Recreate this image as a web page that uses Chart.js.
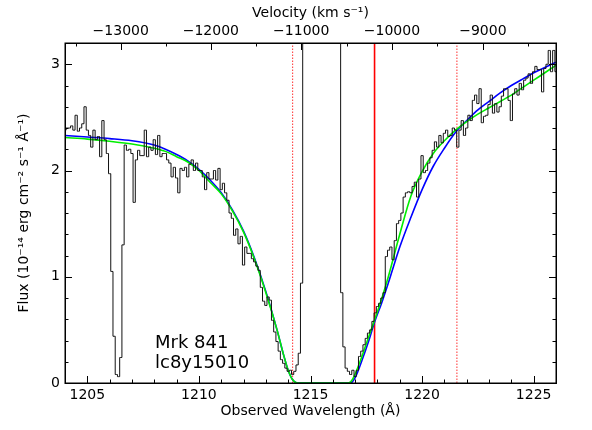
<!DOCTYPE html>
<html><head><meta charset="utf-8">
<script src="https://cdn.jsdelivr.net/npm/chart.js@4.4.1/dist/chart.umd.min.js"></script>
<style>html,body{margin:0;padding:0;background:#fff}canvas{display:block}</style>
</head><body>
<canvas id="c" width="592" height="430"></canvas>
<script>
// ---- data ----
const specStart = 1204.0;   // first bin centre (Å)
const specStep = 0.1;       // bin width (Å)
const specFlux = [
 2.38,2.40,2.40,2.42,2.38,2.52,2.37,2.40,2.44,2.60,
 2.38,2.33,2.22,2.38,2.29,2.32,2.13,2.47,2.29,2.16,
 1.97,1.05,0.44,0.08,0.06,0.24,1.30,2.24,2.19,2.20,
 2.16,1.70,2.10,2.19,2.14,2.14,2.38,2.13,2.22,2.19,
 2.29,2.15,2.33,2.13,2.16,2.16,2.10,2.07,1.94,2.03,
 1.93,1.79,2.02,2.00,2.03,1.94,2.06,2.10,2.00,2.07,
 2.00,2.00,1.94,1.82,1.98,1.92,1.92,2.00,1.91,2.02,
 1.82,1.88,1.79,1.72,1.60,1.55,1.39,1.45,1.31,1.38,
 1.11,1.28,1.22,1.22,1.17,1.14,1.10,1.06,0.90,0.77,
 0.73,0.81,0.78,0.59,0.48,0.39,0.30,0.22,0.185,0.14,
 0.11,0.12,0.08,0.11,0.17,0.28,0.94,9,9,9,
 9,9,9,9,9,9,9,9,9,9,
 9,9,9,9,0.85,0.34,0.14,0.11,0.08,0.12,
 0.06,0.12,0.25,0.30,0.36,0.42,0.47,0.50,0.58,0.66,
 0.72,0.75,0.80,0.85,1.19,1.25,1.28,1.16,1.34,1.50,
 1.53,1.60,1.75,1.79,1.80,1.79,1.85,1.89,1.75,1.92,
 2.14,1.98,2.00,2.07,2.12,2.19,2.27,2.22,2.33,2.26,
 2.35,2.38,2.32,2.33,2.40,2.38,2.22,2.38,2.47,2.33,
 2.40,2.52,2.47,2.66,2.71,2.63,2.77,2.45,2.51,2.52,
 2.62,2.71,2.54,2.63,2.55,2.60,2.70,2.77,2.77,2.66,
 2.47,2.72,2.77,2.71,2.82,2.76,2.85,2.87,2.91,2.82,
 2.93,2.98,2.95,2.95,2.74,2.96,3.00,3.13,2.93,3.13,
 2.93
];
const greenWave = [1204.0,1205.0,1206.0,1207.0,1208.0,1208.5,1209.0,1209.5,1210.0,1210.5,1211.0,1211.5,1212.0,1212.5,1213.0,1213.5,1213.8,1214.0,1214.2,1214.4,1215.5,1216.7,1216.9,1217.2,1217.5,1217.85,1218.2,1218.5,1219.0,1219.5,1220.0,1220.5,1221.0,1221.5,1222.0,1222.5,1223.0,1223.5,1224.0,1224.5,1225.0,1225.5,1226.0];
const greenFlux = [2.31,2.295,2.275,2.25,2.21,2.18,2.13,2.08,2.00,1.89,1.78,1.62,1.42,1.16,0.85,0.50,0.26,0.12,0.03,0.0,0.0,0.0,0.04,0.19,0.37,0.58,0.80,1.01,1.40,1.76,1.99,2.16,2.28,2.38,2.46,2.53,2.59,2.65,2.71,2.78,2.85,2.92,2.99];
const blueWave = [1204.0,1205.0,1206.0,1207.0,1208.0,1208.5,1209.0,1209.5,1210.0,1210.5,1211.0,1211.5,1212.0,1212.5,1213.0,1213.5,1213.8,1214.0,1214.2,1214.4,1215.6,1216.8,1217.0,1217.3,1217.6,1217.85,1218.2,1218.5,1219.0,1219.5,1220.0,1220.5,1221.0,1221.5,1222.0,1222.5,1223.0,1223.5,1224.0,1224.5,1225.0,1225.5,1226.0];
const blueFlux = [2.33,2.315,2.30,2.28,2.24,2.20,2.15,2.09,2.01,1.91,1.79,1.63,1.43,1.17,0.86,0.50,0.26,0.12,0.03,0.0,0.0,0.0,0.05,0.21,0.39,0.56,0.76,0.95,1.28,1.56,1.82,2.04,2.21,2.36,2.47,2.57,2.65,2.73,2.80,2.86,2.92,2.97,3.02];
const redSolidWave = 1217.87;
const redDottedWaves = [1214.20, 1221.56];
const xMajorTicks = [1205, 1210, 1215, 1220, 1225];
const yMajorTicks = [0, 1, 2, 3];
const velMajorTicks = [-13000, -12000, -11000, -10000, -9000];
const velMinorTicks = [-13500, -12500, -11500, -10500, -9500, -8500];
const lambdaRef = 1260.0;
const xRange = [1204, 1226];
const yRange = [0, 3.2];

// ---- helpers ----
const C_KMS = 299792.458;
function velToWave(v){ const b = v / C_KMS; return lambdaRef * Math.sqrt((1 + b) / (1 - b)); }
const specData = specFlux.map((f, i) => ({x: +(specStart + i * specStep).toFixed(2), y: f}));
const greenData = greenWave.map((w, i) => ({x: w, y: greenFlux[i]}));
const blueData = blueWave.map((w, i) => ({x: w, y: blueFlux[i]}));
const vline = w => [{x: w, y: yRange[0]}, {x: w, y: yRange[1]}];

Chart.defaults.font.family = '"DejaVu Sans", sans-serif';
Chart.defaults.font.size = 14;
Chart.defaults.color = '#000';

const frameTicks = {
  id: 'frameTicks',
  afterDatasetsDraw(chart) {
    const {ctx, chartArea: a, scales} = chart;
    const xs = scales.x, ys = scales.y;
    const MAJ = 7, MIN = 3.5;
    ctx.save();
    ctx.strokeStyle = '#000';
    ctx.lineWidth = 1;
    ctx.beginPath();
    const bottomTick = (v, len) => {
      const X = Math.round(xs.getPixelForValue(v)) + 0.5;
      ctx.moveTo(X, a.bottom); ctx.lineTo(X, a.bottom - len);
    };
    const topTick = (w, len) => {
      const X = Math.round(xs.getPixelForValue(w)) + 0.5;
      ctx.moveTo(X, a.top); ctx.lineTo(X, a.top + len);
    };
    const sideTick = (v, len) => {
      const Y = Math.round(ys.getPixelForValue(v)) + 0.5;
      ctx.moveTo(a.left, Y); ctx.lineTo(a.left + len, Y);
      ctx.moveTo(a.right, Y); ctx.lineTo(a.right - len, Y);
    };
    for (let w = Math.ceil(xRange[0]); w <= xRange[1]; w++) {
      bottomTick(w, xMajorTicks.includes(w) ? MAJ : MIN);
    }
    velMajorTicks.forEach(v => topTick(velToWave(v), MAJ));
    velMinorTicks.forEach(v => topTick(velToWave(v), MIN));
    for (let k = 0; k <= 16; k++) {
      sideTick(k * 0.2, (k % 5 === 0) ? MAJ : MIN);
    }
    ctx.stroke();
    ctx.lineWidth = 1.5;
    ctx.strokeRect(a.left + 0.25, a.top + 0.25, a.right - a.left, a.bottom - a.top);
    // annotations
    ctx.fillStyle = '#000';
    ctx.font = '18px "DejaVu Sans"';
    ctx.textAlign = 'left';
    ctx.textBaseline = 'alphabetic';
    ctx.fillText('Mrk 841', a.left + 90, 348);
    ctx.fillText('lc8y15010', a.left + 90, 368);
    ctx.restore();
  }
};

new Chart(document.getElementById('c'), {
  type: 'scatter',
  data: {
    datasets: [
      {data: specData, showLine: true, stepped: 'middle', borderColor: '#111', borderWidth: 1, pointRadius: 0},
      {data: greenData, showLine: true, cubicInterpolationMode: 'monotone', borderColor: '#00ee00', borderWidth: 1.6, pointRadius: 0},
      {data: blueData, showLine: true, cubicInterpolationMode: 'monotone', borderColor: '#0000ff', borderWidth: 1.6, pointRadius: 0},
      {data: vline(redSolidWave), showLine: true, borderColor: '#ff0000', borderWidth: 1.6, pointRadius: 0},
      {data: vline(redDottedWaves[0]), showLine: true, borderColor: '#ff3030', borderWidth: 1, borderDash: [1.5, 1.5], pointRadius: 0},
      {data: vline(redDottedWaves[1]), showLine: true, borderColor: '#ff3030', borderWidth: 1, borderDash: [1.5, 1.5], pointRadius: 0}
    ]
  },
  options: {
    responsive: false,
    animation: false,
    devicePixelRatio: 1,
    layout: {padding: {left: 0, right: 36, top: 0, bottom: 0}},
    plugins: {legend: {display: false}, tooltip: {enabled: false}},
    scales: {
      x: {
        type: 'linear', position: 'bottom', min: xRange[0], max: xRange[1],
        afterBuildTicks: s => { s.ticks = xMajorTicks.map(v => ({value: v})); },
        afterFit: s => { s.height = 47; },
        ticks: {padding: 4, maxRotation: 0, autoSkip: false, callback: v => String(v), color: '#000', font: {size: 14}},
        grid: {display: false, drawTicks: false},
        border: {display: false},
        title: {display: true, text: 'Observed Wavelength (Å)', color: '#000', font: {size: 14}, padding: {top: 0, bottom: 10}}
      },
      x2: {
        type: 'linear', position: 'top', min: xRange[0], max: xRange[1],
        afterBuildTicks: s => { s.ticks = velMajorTicks.map(v => ({value: velToWave(v)})); },
        afterFit: s => { s.height = 43; },
        ticks: {padding: 3, maxRotation: 0, autoSkip: false, color: '#000', font: {size: 14},
          callback: (val, i) => '\u2212' + Math.abs(velMajorTicks[i])},
        grid: {display: false, drawTicks: false},
        border: {display: false},
        title: {display: true, text: 'Velocity (km s\u207B\u00B9)', color: '#000', font: {size: 14}, padding: {top: 5, bottom: 0}}
      },
      y: {
        type: 'linear', position: 'left', min: yRange[0], max: yRange[1],
        afterBuildTicks: s => { s.ticks = yMajorTicks.map(v => ({value: v})); },
        afterFit: s => { s.width = 65; },
        ticks: {padding: 5, color: '#000', font: {size: 14}, callback: v => String(v)},
        grid: {display: false, drawTicks: false},
        border: {display: false},
        title: {display: true, text: 'Flux (10\u207B\u00B9\u2074 erg cm\u207B\u00B2 s\u207B\u00B9 Å\u207B\u00B9)', color: '#000', font: {size: 14}, padding: {top: 16, bottom: 0}}
      }
    }
  },
  plugins: [frameTicks]
});
</script>
</body></html>
